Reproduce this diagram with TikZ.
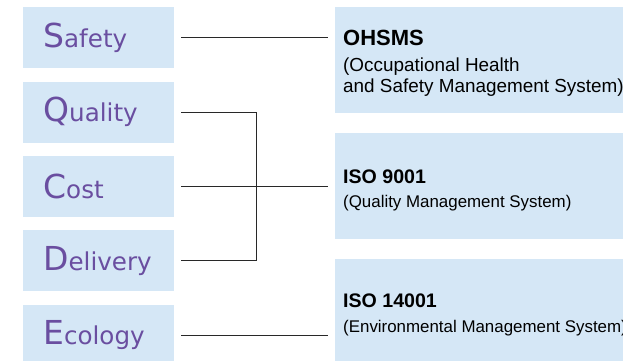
\documentclass[tikz,border=0pt]{standalone}
\usepackage{fontspec}
\setmainfont{Liberation Sans}
\newfontfamily\leftfont{DejaVu Sans}
\definecolor{boxblue}{RGB}{213,231,246}
\definecolor{qpurple}{RGB}{106,78,160}
\definecolor{linegray}{RGB}{40,40,40}
\newcommand{\bigL}[2]{{\fontsize{33}{33}\selectfont #1}{\fontsize{24.6}{33}\selectfont #2}}
\begin{document}
\begin{tikzpicture}[x=1pt,y=-1pt,
  lbox/.style={fill=boxblue, draw=none, minimum width=151pt, minimum height=61pt,
    anchor=north west, inner sep=0pt, text width=131pt, align=left,
    font=\leftfont, text=qpurple},
  rbox/.style={fill=boxblue, draw=none, minimum width=320pt, minimum height=106pt,
    anchor=north west, inner sep=0pt},
  rtxt/.style={anchor=base west, inner sep=0pt, text=black},
  bigtitle/.style={rtxt, font=\fontsize{22}{24}\selectfont\bfseries},
  bigsub/.style={rtxt, font=\fontsize{18.9}{21}\selectfont},
  title/.style={rtxt, font=\fontsize{19.6}{22}\selectfont\bfseries},
  sub/.style={rtxt, font=\fontsize{16.9}{20}\selectfont},
  conn/.style={draw=linegray, line width=1pt}]
\useasboundingbox (0,0) rectangle (623,360);
\clip (0,0) rectangle (623,360);
% left boxes
\node[lbox] (s) at (23,7) {\hspace*{10pt}\bigL{S}{afety}};
\node[lbox] (q) at (23,81.3) {\hspace*{10pt}\bigL{Q}{uality}};
\node[lbox] (c) at (23,155.6) {\hspace*{10pt}\bigL{C}{ost}};
\node[lbox] (d) at (23,230) {\hspace*{10pt}\bigL{D}{elivery}};
\node[lbox] (e) at (23,304.3) {\hspace*{10pt}\bigL{E}{cology}};
% right boxes
\node[rbox] (oh) at (335,7) {};
\node[rbox] (iq) at (335,133) {};
\node[rbox] (ie) at (335,259) {};
% right texts
\node[bigtitle] (oh1) at (343,45) {OHSMS};
\node[bigsub] (oh2) at (343,71) {(Occupational Health};
\node[bigsub] (oh3) at (343,92.5) {and Safety Management System)};
\node[title] (iq1) at (343,183.5) {ISO 9001};
\node[sub] (iq2) at (343,207) {(Quality Management System)};
\node[title] (ie1) at (343,307) {ISO 14001};
\node[sub] (ie2) at (343,332) {(Environmental Management System)};
% connectors
\coordinate (bus) at (256,0);
\draw[conn] ([xshift=7pt]s.east) -- ([xshift=-7pt]oh.west |- s.east);
\draw[conn] ([xshift=7pt]c.east) -- ([xshift=-7pt]iq.west |- c.east);
\draw[conn] ([xshift=7pt]e.east) -- ([xshift=-7pt]ie.west |- e.east);
\draw[conn] ([xshift=7pt]q.east) -- (q.east -| bus) -- (d.east -| bus) -- ([xshift=7pt]d.east);
\end{tikzpicture}
\end{document}
